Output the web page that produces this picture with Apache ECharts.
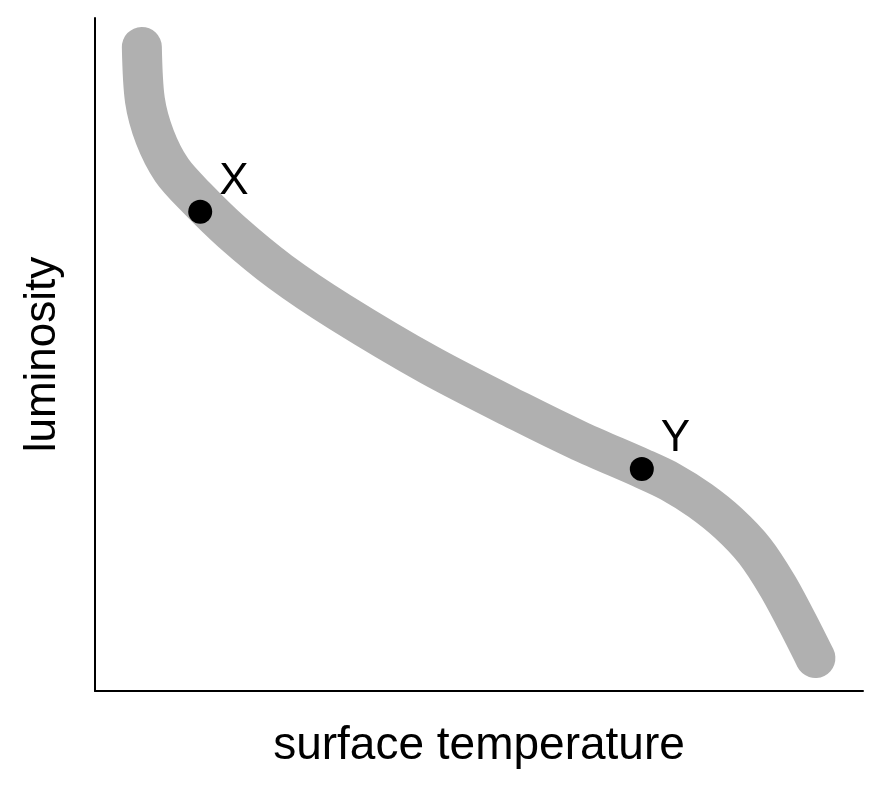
<!DOCTYPE html>
<html>
<head>
<meta charset="utf-8">
<title>Luminosity vs surface temperature</title>
<script src="https://cdn.jsdelivr.net/npm/echarts@6/dist/echarts.min.js"></script>
<style>
    html, body { margin: 0; padding: 0; background: #fff; }
    #chart { width: 887px; height: 786px; }
</style>
</head>
<body>
<div id="chart"></div>
<script>
// Main sequence band (arbitrary 0-100 units on both axes)
const curveTemp = [6.1, 6.5, 7.8, 10.0, 13.2, 17.8, 24.1, 31.9, 43.6, 55.3,
                   63.2, 71.2, 74.9, 78.8, 82.5, 85.9, 88.9, 91.5, 93.8];
const curveLum  = [95.7, 87.8, 82.3, 77.4, 73.3, 68.2, 62.3, 56.3, 48.4, 41.5,
                   37.1, 33.1, 31.1, 28.3, 24.9, 20.8, 15.6, 10.1, 4.9];

// Marked stars
const starNames = ['X', 'Y'];
const starTemp  = [13.7, 71.2];
const starLum   = [71.2, 33.0];

const FONT = '"Liberation Sans", Arial, sans-serif';

const chart = echarts.init(document.getElementById('chart'));

chart.setOption({
    animation: false,
    backgroundColor: '#fff',
    grid: { left: 95, top: 18, width: 768, height: 673, containLabel: false },
    xAxis: {
        type: 'value',
        min: 0,
        max: 100,
        name: 'surface temperature',
        nameLocation: 'middle',
        nameGap: 32,
        nameTextStyle: { fontFamily: FONT, fontSize: 46, color: '#000' },
        axisLine: { show: true, lineStyle: { color: '#000', width: 2 } },
        axisTick: { show: false },
        axisLabel: { show: false },
        splitLine: { show: false }
    },
    yAxis: {
        type: 'value',
        min: 0,
        max: 100,
        name: 'luminosity',
        nameLocation: 'middle',
        nameRotate: 90,
        nameGap: 30,
        nameTextStyle: { fontFamily: FONT, fontSize: 44, color: '#000' },
        axisLine: { show: true, lineStyle: { color: '#000', width: 2 } },
        axisTick: { show: false },
        axisLabel: { show: false },
        splitLine: { show: false }
    },
    series: [
        {
            type: 'line',
            data: curveTemp.map((t, i) => [t, curveLum[i]]),
            smooth: 0.3,
            showSymbol: false,
            clip: false,
            lineStyle: { color: '#b0b0b0', width: 40, cap: 'round', join: 'round' }
        },
        {
            type: 'scatter',
            data: starNames.map((n, i) => ({ name: n, value: [starTemp[i], starLum[i]] })),
            symbolSize: 24,
            itemStyle: { color: '#000', opacity: 1 },
            label: {
                show: true,
                formatter: '{b}',
                position: 'right',
                offset: [2, -30],
                fontFamily: FONT,
                fontSize: 44,
                color: '#000'
            },
            z: 5
        }
    ]
});
</script>
</body>
</html>
